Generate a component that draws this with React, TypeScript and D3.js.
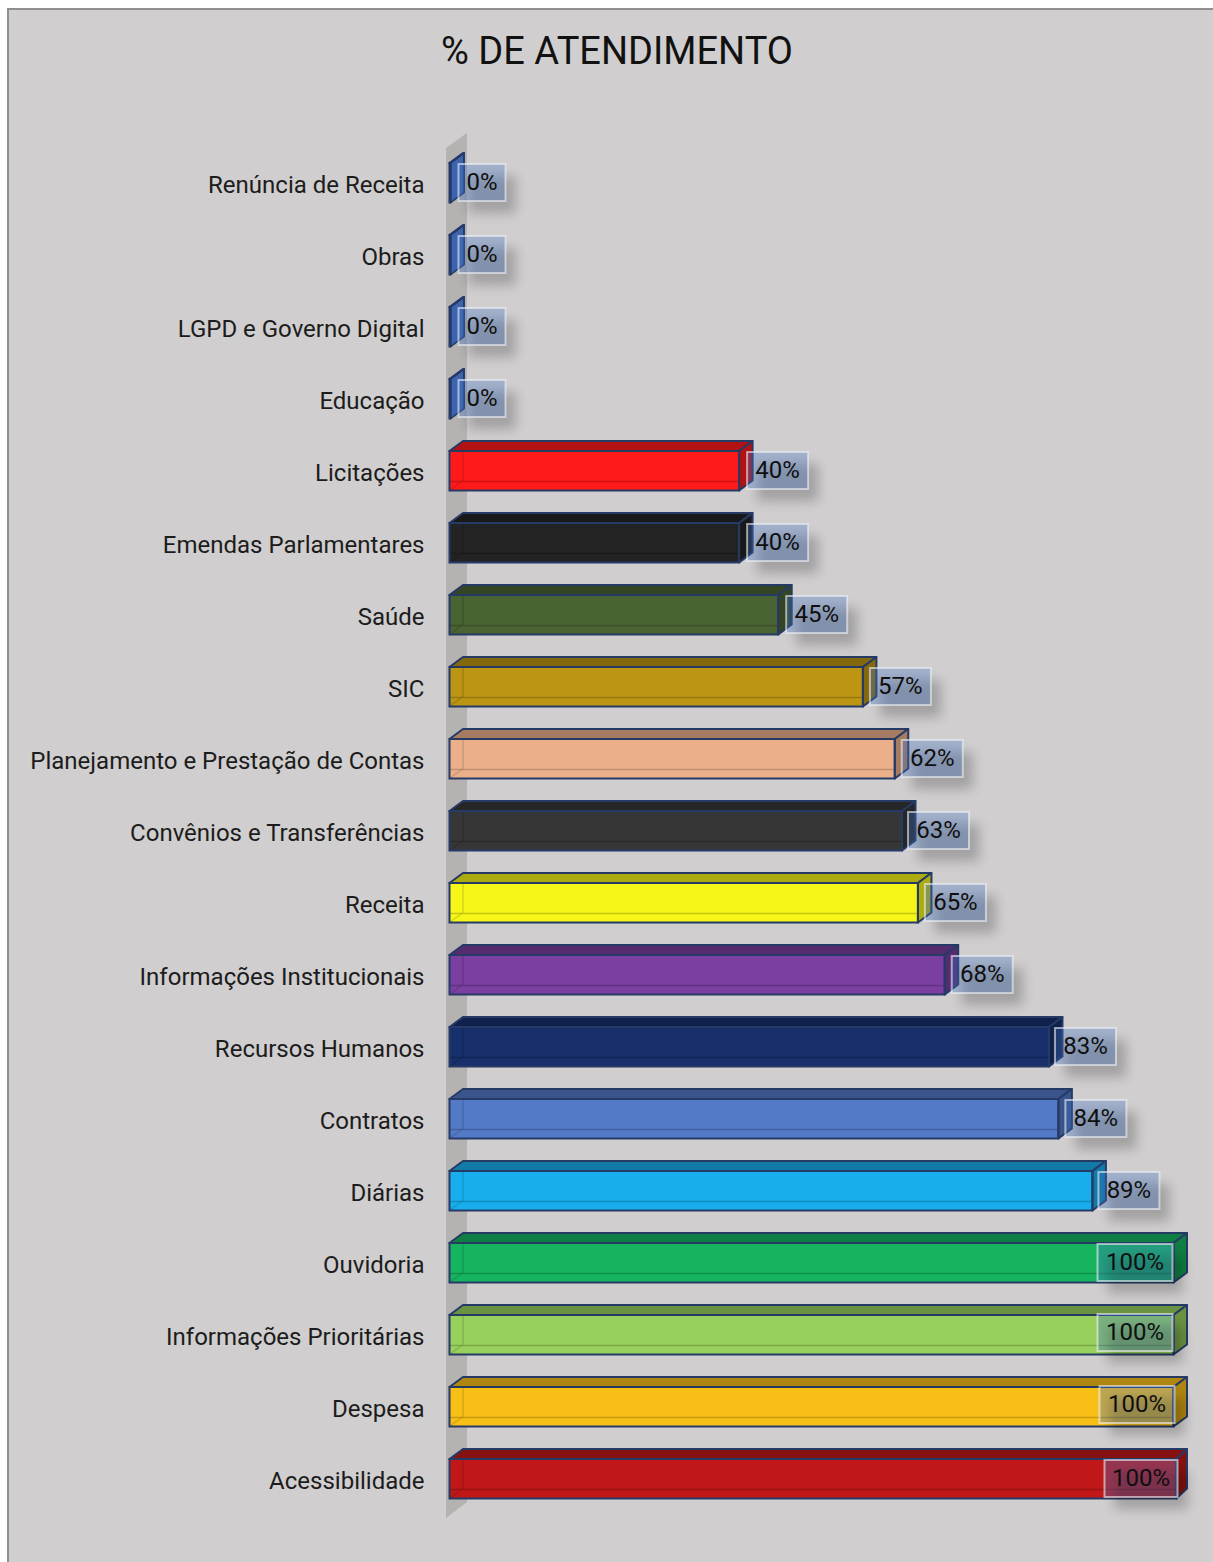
import React from "react";
import * as d3 from "d3";

const categories = ["Renúncia de Receita","Obras","LGPD e Governo Digital","Educação","Licitações","Emendas Parlamentares","Saúde","SIC","Planejamento e Prestação de Contas","Convênios e Transferências","Receita","Informações Institucionais","Recursos Humanos","Contratos","Diárias","Ouvidoria","Informações Prioritárias","Despesa","Acessibilidade"];
const values = [0,0,0,0,40,40,45.4,57.1,61.5,62.5,64.7,68.4,82.8,84.1,88.8,100,100,100,100.4];
const colors = ["#4472c4","#4472c4","#4472c4","#4472c4","#ff1a1a","#232323","#4a6332","#bc9513","#ebb08a","#363636","#f6f618","#7a3fa0","#17306b","#537ac6","#18aeee","#16b45e","#97d05c","#f8bf17","#c01818"];
const labelNudgesX = [0,0,0,0,-1,-1,-1,-2,-2,-3,-2,-2,-3,-2,-3,0,0,2,5];
const labelNudgesY = [0,0,0,0,0,0,0,0,0,0,0,0,0,0,0,0,-2,-2,0];
const labelWidthTrim = [0,0,0,0,0,0,0,0,0,0,0,0,0,0,0,0,0,0,2];

const W = 1213, H = 1562;
const FONT = "Roboto, sans-serif";
const DX = 13.5, DY = 10;

export default function App() {
  const x = d3.scaleLinear().domain([0, 100]).range([449.5, 1173.5]);
  const y = d3.scaleBand<string>().domain(categories).range([146.75, 146.75 + 72 * 19]).paddingInner(32.5 / 72).paddingOuter(16.25 / 72);
  const h = y.bandwidth();
  const stroke = "#263a66";
  const maxBack = x(100) + DX;
  return (
    <svg width={W} height={H} style={{ position: "absolute", left: 0, top: 0 }}>
      <defs>
        <filter id="sh" x="-40%" y="-40%" width="180%" height="180%">
          <feGaussianBlur stdDeviation="6" />
        </filter>
      </defs>
      <rect x={0} y={0} width={W} height={H} fill="#fff" />
      <rect x={8} y={9} width={W} height={H} fill="#d0cece" stroke="#8f8f8f" strokeWidth={2} />
      <text x={617} y={64} textAnchor="middle" fontFamily={FONT} fontSize={38} fill="#111">% DE ATENDIMENTO</text>
      <polygon points="446,148 467,133 467,1502 446,1518" fill="#b5b2b2" />
      {categories.map((c, i) => {
        const x0 = x(0), x1 = Math.max(x(values[i]), x0 + 1), t = y(c)!, b = t + h;
        const xb = Math.min(x1 + DX, maxBack);
        const col = colors[i];
        const dark = d3.color(col)!.darker(values[i] === 0 ? 0.35 : 1).formatHex();
        return (
          <g key={c}>
            <text x={424.5} y={t + 30} textAnchor="end" fontFamily={FONT} fontSize={24} fill="#1c1c1c">{c}</text>
            <rect x={x0} y={t} width={x1 - x0} height={h} fill={col} />
            <polygon points={`${x0},${t} ${x0 + DX},${t - DY} ${xb},${t - DY} ${x1},${t}`} fill={dark} stroke={stroke} strokeWidth={2} strokeLinejoin="round" />
            <polygon points={`${x1},${t} ${xb},${t - DY} ${xb},${b - DY} ${x1},${b}`} fill={dark} stroke={stroke} strokeWidth={2} strokeLinejoin="round" />
            <line x1={x0} y1={b - DY + 1} x2={x1} y2={b - DY + 1} stroke={dark} strokeWidth={1.5} opacity={0.65} />
            <line x1={x0 + DX} y1={t} x2={x0 + DX} y2={b - DY} stroke={dark} strokeWidth={1.5} opacity={0.45} />
            <line x1={x0} y1={b} x2={x0 + DX} y2={b - DY} stroke={dark} strokeWidth={1.5} opacity={0.45} />
            <rect x={x0} y={t} width={x1 - x0} height={h} fill="none" stroke={stroke} strokeWidth={2} />
          </g>
        );
      })}
      {categories.map((c, i) => {
        const v = values[i];
        const label = `${Math.round(v)}%`;
        const w = (label.length === 4 ? 75 : label.length === 3 ? 61 : 47) - labelWidthTrim[i];
        const t = y(c)!;
        const fx = x(Math.min(v, 100));
        const left = (v >= 100 ? fx - w - 1 : fx + 9) + labelNudgesX[i];
        const top = t + 1 + labelNudgesY[i];
        const bh = 37;
        return (
          <g key={c + "l"}>
            <rect x={left + 10} y={top + 12} width={w} height={bh} fill="#000" opacity={0.22} filter="url(#sh)" />
            <rect x={left} y={top} width={w} height={bh} fill="#4472c4" fillOpacity={0.33} stroke="#f0f2f8" strokeOpacity={0.6} strokeWidth={2} />
            <text x={left + w / 2} y={top + 25.5} textAnchor="middle" fontFamily={FONT} fontSize={24} fill="#0f0f0f">{label}</text>
          </g>
        );
      })}
    </svg>
  );
}
